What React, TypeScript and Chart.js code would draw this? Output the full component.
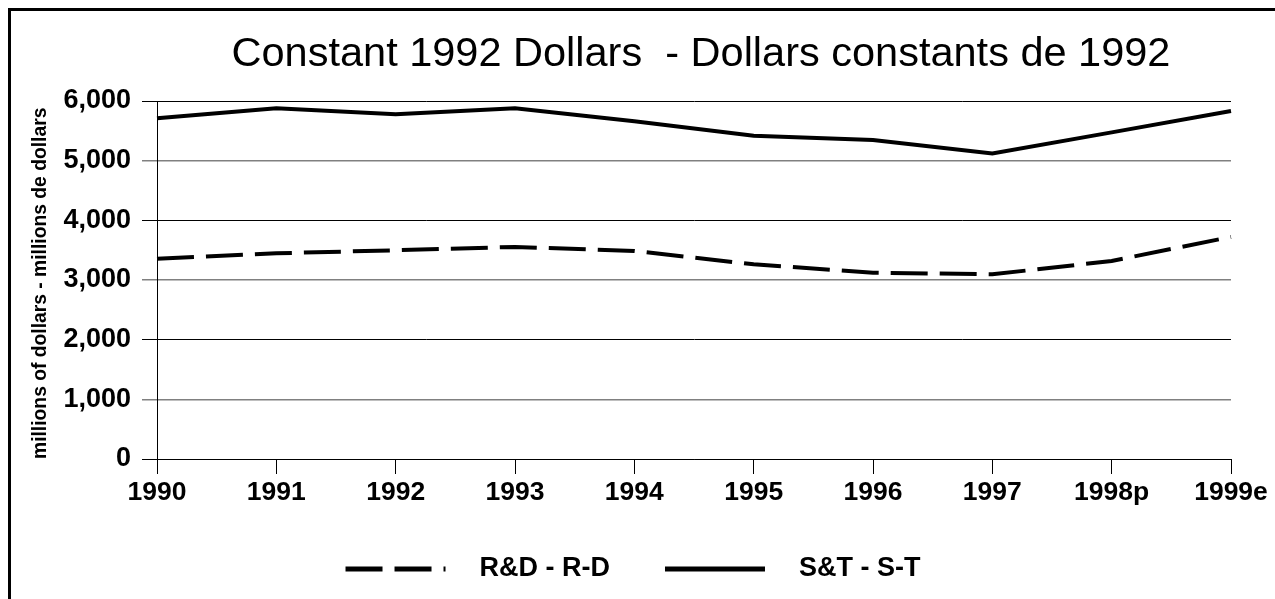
import React, { useEffect, useRef } from "react";
import { Chart, registerables } from "chart.js";

Chart.register(...registerables);

// ---- data ----
const years = ["1990", "1991", "1992", "1993", "1994", "1995", "1996", "1997", "1998p", "1999e"];
const rdValues = [3358, 3448, 3498, 3554, 3487, 3263, 3123, 3095, 3319, 3722];
const stValues = [5710, 5877, 5776, 5877, 5660, 5418, 5345, 5120, 5474, 5832];
const seriesLabels = ["R&D - R-D", "S&T - S-T"];
const yMin = 0;
const yMax = 6000;
const yStep = 1000;
const titleText = "Constant 1992 Dollars  - Dollars constants de 1992";
const yAxisTitle = "millions of dollars - millions de dollars";

// ---- layout / style ----
const FONT = "'Liberation Sans', Arial, Helvetica, sans-serif";
const BOX_W = 1264;
const BOX_H = 588;

const titleShiftPlugin = {
  id: "titleShift",
  afterLayout(chart: any) {
    const tb = chart.titleBlock;
    if (tb) {
      tb.left += 14;
    }
  },
};

const legendPlugin = {
  id: "refLegend",
  afterDraw(chart: any) {
    const ctx = chart.ctx as CanvasRenderingContext2D;
    ctx.save();
    ctx.font = `bold 27px ${FONT}`;
    const lineLen = 100;
    const gapText = 34;
    const gapItem = 55;
    const items = chart.data.datasets.map((ds: any) => ({
      label: ds.label as string,
      w: ctx.measureText(ds.label).width,
      dash: (ds.borderDash || []) as number[],
      color: ds.borderColor as string,
    }));
    const total =
      items.reduce((s: number, it: any) => s + lineLen + gapText + it.w, 0) +
      gapItem * (items.length - 1);
    let x = chart.width / 2 - 10 - total / 2;
    const y = chart.height - 30;
    for (const it of items) {
      ctx.beginPath();
      ctx.setLineDash(it.dash);
      ctx.lineWidth = 5;
      ctx.lineCap = "butt";
      ctx.strokeStyle = it.color;
      ctx.moveTo(x, y);
      ctx.lineTo(x + lineLen, y);
      ctx.stroke();
      ctx.setLineDash([]);
      ctx.fillStyle = "#000";
      ctx.textBaseline = "middle";
      ctx.textAlign = "left";
      ctx.fillText(it.label, x + lineLen + gapText, y);
      x += lineLen + gapText + it.w + gapItem;
    }
    ctx.restore();
  },
};

export default function App() {
  const canvasRef = useRef<HTMLCanvasElement | null>(null);

  useEffect(() => {
    document.body.style.margin = "0";
    document.documentElement.style.overflow = "hidden";
    const canvas = canvasRef.current;
    if (!canvas) return;
    const gridColor = (c: any) =>
      c.tick && c.tick.value % 2000 === 0 ? "#000000" : "#808080";
    const chart = new Chart(canvas, {
      type: "line",
      data: {
        labels: years,
        datasets: [
          {
            label: seriesLabels[0],
            data: rdValues,
            borderColor: "#000000",
            backgroundColor: "#000000",
            borderWidth: 4,
            borderDash: [37, 12],
            pointRadius: 0,
            tension: 0,
            fill: false,
          },
          {
            label: seriesLabels[1],
            data: stValues,
            borderColor: "#000000",
            backgroundColor: "#000000",
            borderWidth: 4,
            pointRadius: 0,
            tension: 0,
            fill: false,
          },
        ],
      },
      options: {
        responsive: false,
        maintainAspectRatio: false,
        animation: false,
        devicePixelRatio: 1,
        events: [],
        layout: { padding: { top: 0, left: 0, right: 44, bottom: 88 } },
        plugins: {
          legend: { display: false },
          tooltip: { enabled: false },
          title: {
            display: true,
            text: titleText,
            color: "#000000",
            fullSize: false,
            font: { family: FONT, size: 41.5, weight: "normal" },
            padding: { top: 19, bottom: 21.2 },
          },
        },
        scales: {
          x: {
            type: "category",
            offset: false,
            grid: {
              drawOnChartArea: false,
              drawTicks: true,
              tickLength: 15,
              color: "#000000",
              lineWidth: 1,
            },
            border: { display: true, color: "#000000", width: 1 },
            ticks: {
              color: "#000000",
              font: { family: FONT, size: 26.5, weight: "bold" },
              padding: 3,
              maxRotation: 0,
              autoSkip: false,
            },
            afterFit: (s: any) => {
              s.height = 52;
            },
          },
          y: {
            min: yMin,
            max: yMax,
            grid: {
              drawOnChartArea: true,
              drawTicks: true,
              tickLength: 15,
              color: gridColor,
              lineWidth: (c: any) => (c.tick && c.tick.value % 2000 === 0 ? 1 : 1.5),
            },
            border: { display: true, color: "#000000", width: 1 },
            ticks: {
              stepSize: yStep,
              color: "#000000",
              padding: 11,
              font: { family: FONT, size: 27, weight: "bold" },
              callback: (v: any) => Number(v).toLocaleString("en-US"),
            },
            title: {
              display: true,
              text: yAxisTitle,
              align: "start",
              color: "#000000",
              font: { family: FONT, size: 19.3, weight: "bold" },
              padding: { top: 18, bottom: 0 },
            },
            afterFit: (s: any) => {
              s.width = 146;
            },
          },
        },
      },
      plugins: [titleShiftPlugin, legendPlugin],
    } as any);
    return () => chart.destroy();
  }, []);

  return (
    <div style={{ paddingLeft: 8, paddingTop: 8 }}>
      <div
        style={{
          width: BOX_W + 3,
          height: BOX_H + 3,
          boxSizing: "border-box",
          borderTop: "3px solid #000",
          borderLeft: "3px solid #000",
          overflow: "hidden",
          background: "#fff",
        }}
      >
        <canvas
          ref={canvasRef}
          width={BOX_W}
          height={BOX_H}
          style={{ width: BOX_W + "px", height: BOX_H + "px", display: "block" }}
        />
      </div>
    </div>
  );
}
